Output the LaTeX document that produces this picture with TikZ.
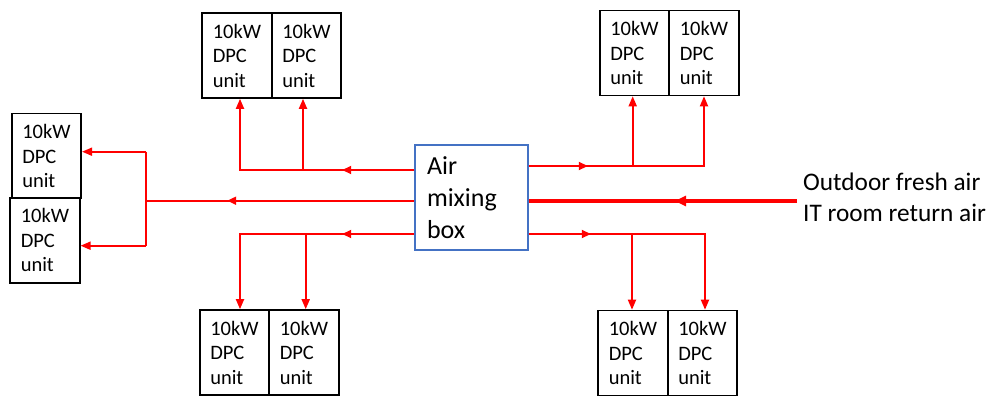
\documentclass[tikz,border=0pt]{standalone}
\usepackage{fontspec}
\setmainfont{Carlito}
\usetikzlibrary{arrows.meta,decorations.markings}
\definecolor{boxblue}{RGB}{68,114,196}
\definecolor{flowred}{RGB}{255,0,0}
\begin{document}
\begin{tikzpicture}[x=1pt,y=-1pt,
  unit/.style={draw=black,line width=1.6pt,minimum width=69.5pt,minimum height=85pt,
    inner xsep=10.5pt,inner ysep=0pt,text width=48.5pt,align=left,
    font=\fontsize{20.5}{24.5}\selectfont},
  mixbox/.style={draw=boxblue,line width=1.6pt,minimum width=113pt,minimum height=105pt,
    inner xsep=12pt,text width=89pt,align=left,font=\fontsize{26}{32}\selectfont},
  flow/.style={draw=flowred,line width=1.8pt},
  tipped/.style={-{Triangle[length=10pt,width=8pt]}},
  midarrow/.style={postaction={decorate},decoration={markings,
    mark=at position #1 with {\arrow{Triangle[length=9pt,width=8pt]}}}},
  thickflow/.style={draw=flowred,line width=3.8pt},
  thickmid/.style={postaction={decorate},decoration={markings,
    mark=at position #1 with {\arrow{Triangle[length=11pt,width=10pt]}}}},
  lbl/.style={align=left,font=\fontsize{25.3}{31}\selectfont,inner sep=0pt}
]
\useasboundingbox (0,0) rectangle (996,399);

% air mixing box
\node[mixbox] (mix) at (471.5,197.5) {Air\\mixing\\box};

% DPC units
\node[unit] (TLA) at (237,55.5) {10kW\\DPC\\unit};
\node[unit] (TLB) at (306.5,55.5) {10kW\\DPC\\unit};
\node[unit] (TRA) at (634.5,53) {10kW\\DPC\\unit};
\node[unit] (TRB) at (704,53) {10kW\\DPC\\unit};
\node[unit] (L1) at (46.5,156) {10kW\\DPC\\unit};
\node[unit] (L2) at (45,240.3) {10kW\\DPC\\unit};
\node[unit] (BLA) at (234.5,352.5) {10kW\\DPC\\unit};
\node[unit] (BLB) at (304,352.5) {10kW\\DPC\\unit};
\node[unit] (BRA) at (633,353) {10kW\\DPC\\unit};
\node[unit] (BRB) at (702.5,353) {10kW\\DPC\\unit};

% junction coordinates
\coordinate (tl) at (240,170);
\coordinate (tlb) at (303,170);
\coordinate (tr) at (704,166);
\coordinate (tra) at (632.7,166);
\coordinate (bl) at (240,234);
\coordinate (blb) at (305.7,234);
\coordinate (br) at (705,234);
\coordinate (bra) at (632,234);
\coordinate (lm) at (146,200.7);
\coordinate (lt) at (146,151.7);
\coordinate (lb) at (146,245.7);
\coordinate (inlet) at (797,201);

% top left
\draw[flow,tipped,midarrow=72pt] (mix.west|-tl) -- (tl) -- (tl|-TLA.south);
\draw[flow,tipped] (tlb) -- (tlb|-TLB.south);
% bottom left
\draw[flow,tipped,midarrow=72pt] (mix.west|-bl) -- (bl) -- (bl|-BLA.north);
\draw[flow,tipped] (blb) -- (blb|-BLB.north);
% left
\draw[flow,midarrow=187pt] (mix.west|-lm) -- (lm);
\draw[flow] (lt) -- (lb);
\draw[flow,tipped] (lt) -- (L1.east|-lt);
\draw[flow,tipped] (lb) -- (L2.east|-lb);
% top right
\draw[flow,tipped,midarrow=59pt] (mix.east|-tr) -- (tr) -- (tr|-TRB.south);
\draw[flow,tipped] (tra) -- (tra|-TRA.south);
% bottom right
\draw[flow,tipped,midarrow=62pt] (mix.east|-br) -- (br) -- (br|-BRB.north);
\draw[flow,tipped] (bra) -- (bra|-BRA.north);
% inlet
\draw[thickflow,thickmid=122pt] (inlet) -- (mix.east|-inlet);
\node[lbl,anchor=west] (src) at (803,197) {Outdoor fresh air\\IT room return air};
\end{tikzpicture}
\end{document}
